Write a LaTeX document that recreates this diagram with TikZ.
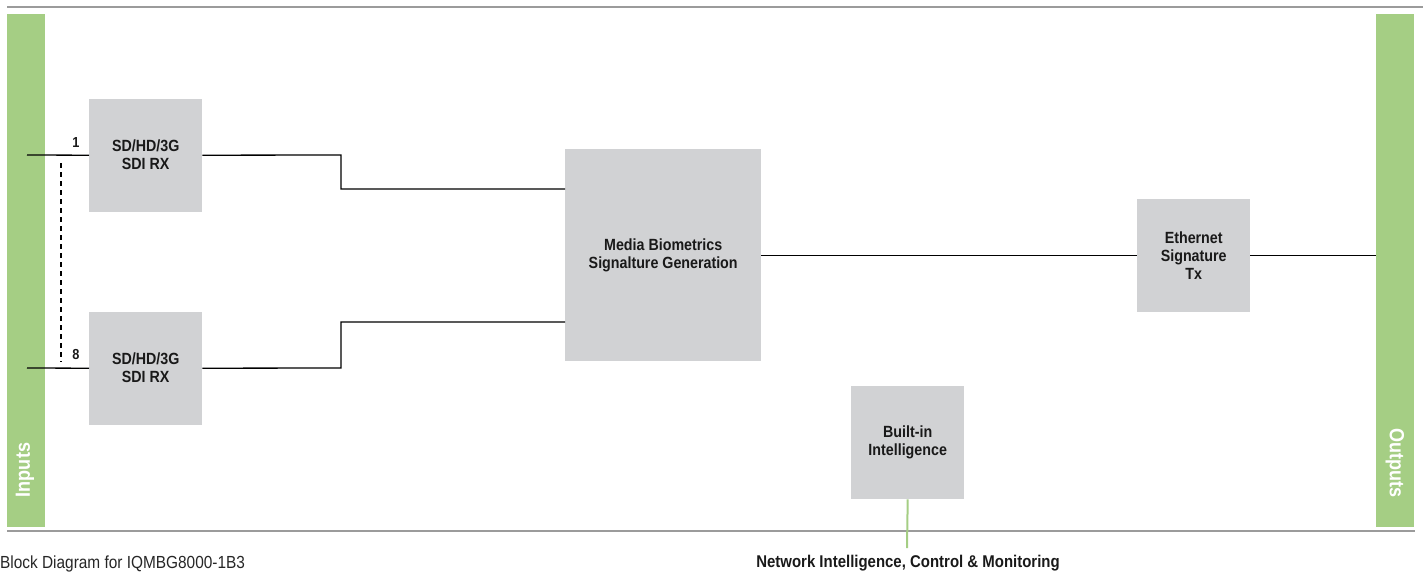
\documentclass[tikz,border=0pt]{standalone}
\usepackage{fontspec}
\setmainfont{Liberation Sans}[FakeStretch=0.88]
\begin{document}
\begin{tikzpicture}[x=1pt,y=-1pt,
  blk/.style={fill=boxgray, draw=none, minimum width=#1, minimum height=#1, anchor=north west, inner sep=0pt, align=center, font=\fontsize{16.2}{18}\selectfont\bfseries, text=black!90},
  blk/.default=113,
  sig/.style={line width=1.3pt, black},
  rail/.style={line width=2.4pt, railgray},
  bar/.style={fill=barg, draw=none, anchor=north west, inner sep=0pt, minimum width=38, minimum height=513},
  num/.style={font=\fontsize{14.5}{16}\selectfont\bfseries, text=black!90, inner sep=0pt}
]
\definecolor{boxgray}{HTML}{D1D2D4}
\definecolor{barg}{HTML}{A5CE84}
\definecolor{railgray}{HTML}{9B9B9B}
\useasboundingbox (0,0) rectangle (1423,571);
% rails
\coordinate (t1) at (7,7); \coordinate (t2) at (1423,7);
\coordinate (b1) at (7,531); \coordinate (b2) at (1415,531);
\draw[rail] (t1) -- (t2);
\draw[rail] (b1) -- (b2);
% side bars
\node[bar] (inbar) at (7,14) {};
\node[bar] (outbar) at (1376,14) {};
\node[rotate=90, text=white, font=\fontsize{20.5}{24}\selectfont\bfseries, inner sep=0pt] (inlbl) at (25,470) {Inputs};
\node[rotate=-90, text=white, font=\fontsize{20.5}{24}\selectfont\bfseries, inner sep=0pt] (outlbl) at (1395,463) {Outputs};
% blocks
\node[blk] (rx1) at (89,98.5) {SD/HD/3G\\SDI RX};
\node[blk] (rx2) at (89,311.5) {SD/HD/3G\\SDI RX};
\node[blk, minimum width=196, minimum height=212] (media) at (565,149) {Media Biometrics\\Signalture Generation};
\node[blk] (eth) at (1137,198.5) {Ethernet\\Signature\\Tx};
\node[blk] (bii) at (851,386) {Built-in\\Intelligence};
% inputs
\coordinate (in1) at (27,155);
\coordinate (in8) at (27,368);
\draw[sig] (in1) -- (rx1.west);
\draw[sig] (in8) -- (rx2.west);
\node[num] (n1) at (76,143) {1};
\node[num] (n8) at (76,355) {8};
\coordinate (d1) at (61,163); \coordinate (d2) at (61,362);
\draw[line width=1.1pt, dash pattern=on 5pt off 4pt] (d1) -- (d2);
% connections
\draw[sig] (rx1.east) -- (341,155) -- (341,189) -- (media.west |- 0,189);
\draw[sig] (rx2.east) -- (341,368) -- (341,322) -- (media.west |- 0,322);
\draw[sig] (media.east) -- (eth.west);
\draw[sig] (eth.east) -- (outbar.west |- eth.east);
\coordinate (netend) at (907,548);
\draw[line width=2pt, barg] (bii.south) -- (netend);
% captions
\node[anchor=base west, inner sep=0pt, font=\fontsize{17.5}{20}\selectfont, text=black!85] (cap) at (0,568) {Block Diagram for IQMBG8000-1B3};
\node[anchor=base, inner sep=0pt, font=\fontsize{17}{20}\selectfont\bfseries, text=black!90] (netlbl) at (908,567) {Network Intelligence, Control \& Monitoring};
\end{tikzpicture}
\end{document}
